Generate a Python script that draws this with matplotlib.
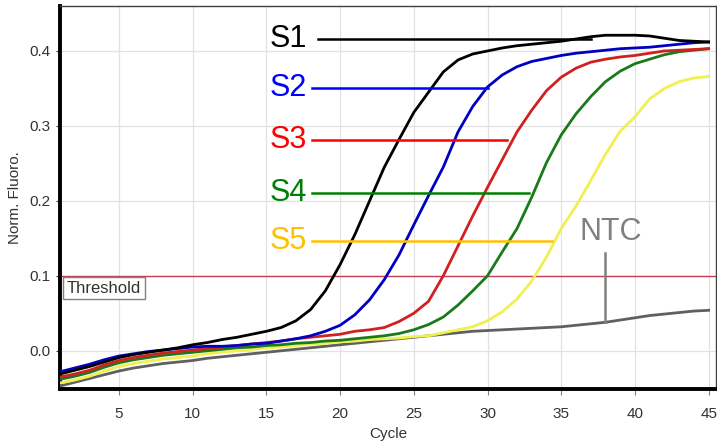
import numpy as np
import matplotlib.pyplot as plt

# ── Data ──────────────────────────────────────────────────────────────────────
cycles = np.arange(1, 46)

s1 = [-0.031, -0.026, -0.021, -0.015, -0.009, -0.005, -0.002, 0.001, 0.004, 0.008,
      0.011, 0.015, 0.018, 0.022, 0.026, 0.031, 0.040, 0.055, 0.080, 0.115,
      0.155, 0.200, 0.245, 0.282, 0.318, 0.345, 0.372, 0.388, 0.396, 0.400,
      0.404, 0.407, 0.409, 0.411, 0.413, 0.416, 0.419, 0.421, 0.421, 0.421,
      0.420, 0.417, 0.414, 0.413, 0.412]
s2 = [-0.028, -0.023, -0.018, -0.012, -0.007, -0.004, -0.001, 0.001, 0.003, 0.005,
      0.006, 0.006, 0.007, 0.009, 0.010, 0.013, 0.016, 0.020, 0.026, 0.034,
      0.048, 0.068, 0.095, 0.128, 0.168, 0.207, 0.245, 0.292, 0.326, 0.352,
      0.368, 0.379, 0.386, 0.390, 0.394, 0.397, 0.399, 0.401, 0.403, 0.404,
      0.405, 0.407, 0.409, 0.411, 0.412]
s3 = [-0.035, -0.031, -0.026, -0.019, -0.013, -0.009, -0.006, -0.003, -0.001, 0.001,
      0.003, 0.005, 0.007, 0.009, 0.011, 0.013, 0.016, 0.018, 0.020, 0.022,
      0.026, 0.028, 0.031, 0.039, 0.050, 0.066, 0.100, 0.140, 0.180, 0.218,
      0.255, 0.292, 0.321, 0.347, 0.365, 0.377, 0.385, 0.389, 0.392, 0.394,
      0.397, 0.400, 0.401, 0.402, 0.403]
s4 = [-0.038, -0.034, -0.029, -0.022, -0.016, -0.012, -0.009, -0.006, -0.004, -0.002,
      0.000, 0.002, 0.004, 0.005, 0.007, 0.008, 0.010, 0.011, 0.013, 0.014,
      0.016, 0.018, 0.020, 0.023, 0.028, 0.035, 0.045, 0.061, 0.080, 0.100,
      0.132, 0.163, 0.205, 0.251, 0.288, 0.316, 0.339, 0.359, 0.373, 0.383,
      0.389, 0.395, 0.399, 0.401, 0.403]
s5 = [-0.043, -0.039, -0.034, -0.027, -0.021, -0.017, -0.014, -0.011, -0.009, -0.007,
      -0.004, -0.002, 0.000, 0.002, 0.004, 0.005, 0.007, 0.009, 0.010, 0.012,
      0.013, 0.015, 0.016, 0.017, 0.019, 0.020, 0.024, 0.028, 0.032, 0.040,
      0.052, 0.069, 0.093, 0.125, 0.163, 0.193, 0.227, 0.262, 0.293, 0.312,
      0.336, 0.350, 0.359, 0.364, 0.366]
ntc = [-0.047, -0.042, -0.037, -0.032, -0.027, -0.023, -0.020, -0.017, -0.015, -0.013,
       -0.010, -0.008, -0.006, -0.004, -0.002, 0.000, 0.002, 0.004, 0.006, 0.008,
       0.010, 0.012, 0.014, 0.016, 0.018, 0.020, 0.022, 0.024, 0.026, 0.027,
       0.028, 0.029, 0.030, 0.031, 0.032, 0.034, 0.036, 0.038, 0.041, 0.044,
       0.047, 0.049, 0.051, 0.053, 0.054]

threshold = 0.1

labels = ["S1", "S2", "S3", "S4", "S5"]
label_y = [0.416, 0.350, 0.281, 0.211, 0.146]
label_line_start = [18.5, 18.1, 18.1, 18.1, 18.1]
label_line_end = [37.0, 30.0, 31.3, 32.8, 34.4]
label_colors = ["black", "#0000ff", "#ff0000", "#008000", "#ffc000"]

curve_colors = ["black", "#0000c0", "#d02020", "#1a7a1a", "#f0f050"]
ntc_color = "#606060"

narrow = ["Liberation Sans Narrow", "Liberation Sans", "DejaVu Sans"]
plt.rcParams["font.family"] = ["Liberation Sans", "DejaVu Sans"]

# ── Figure ────────────────────────────────────────────────────────────────────
fig = plt.figure(figsize=(7.17, 4.43), dpi=100)
ax = fig.add_axes([60 / 717, 54 / 443, 656 / 717, 383 / 443])

ax.plot(cycles, ntc, color=ntc_color, lw=2.0, zorder=3)
for vals, col in zip([s5, s4, s3, s2, s1], curve_colors[::-1]):
    ax.plot(cycles, vals, color=col, lw=2.0, zorder=3)

ax.axhline(threshold, color="#c04058", lw=1.0, zorder=2)
ax.text(1.45, threshold - 0.0065, "Threshold", fontsize=12, color="#333333",
        ha="left", va="top",
        bbox=dict(boxstyle="square,pad=0.22", fc="white", ec="#808080", lw=1))

# annotations
for lab, y, x0, x1, col in zip(labels, label_y, label_line_start, label_line_end, label_colors):
    ax.text(15.2, y, lab, color=col, fontsize=22, family=narrow,
            ha="left", va="center", zorder=5)
    ax.plot([x0, x1], [y, y], color=col, lw=1.8, zorder=4)

ax.text(36.25, 0.158, "NTC", color="#808080", fontsize=22, family=narrow,
        ha="left", va="center", zorder=5)
ax.plot([38.0, 38.0], [0.130, 0.038], color="#808080", lw=1.8, zorder=4)

# axes
ax.set_xlim(1, 45.5)
ax.set_ylim(-0.051, 0.46)
ax.set_xticks([5, 10, 15, 20, 25, 30, 35, 40, 45])
ax.set_yticks([0.0, 0.1, 0.2, 0.3, 0.4])
ax.set_yticklabels(["0.0", "0.1", "0.2", "0.3", "0.4"])
ax.grid(True, color="#e2e2e2", lw=0.9)
ax.set_axisbelow(True)
ax.tick_params(labelsize=11, colors="#333333", length=3)
ax.tick_params(axis="x", length=4, pad=9, color="#808080")

for side in ["left", "bottom"]:
    ax.spines[side].set_linewidth(2.8)
    ax.spines[side].set_color("black")
for side in ["top", "right"]:
    ax.spines[side].set_linewidth(1.0)
    ax.spines[side].set_color("#404040")

ax.set_xlabel("Cycle", fontsize=11, color="#333333", labelpad=4)
ax.set_ylabel("Norm. Fluoro.", fontsize=11, color="#333333", labelpad=6)

fig.savefig("out.png", dpi=100)
